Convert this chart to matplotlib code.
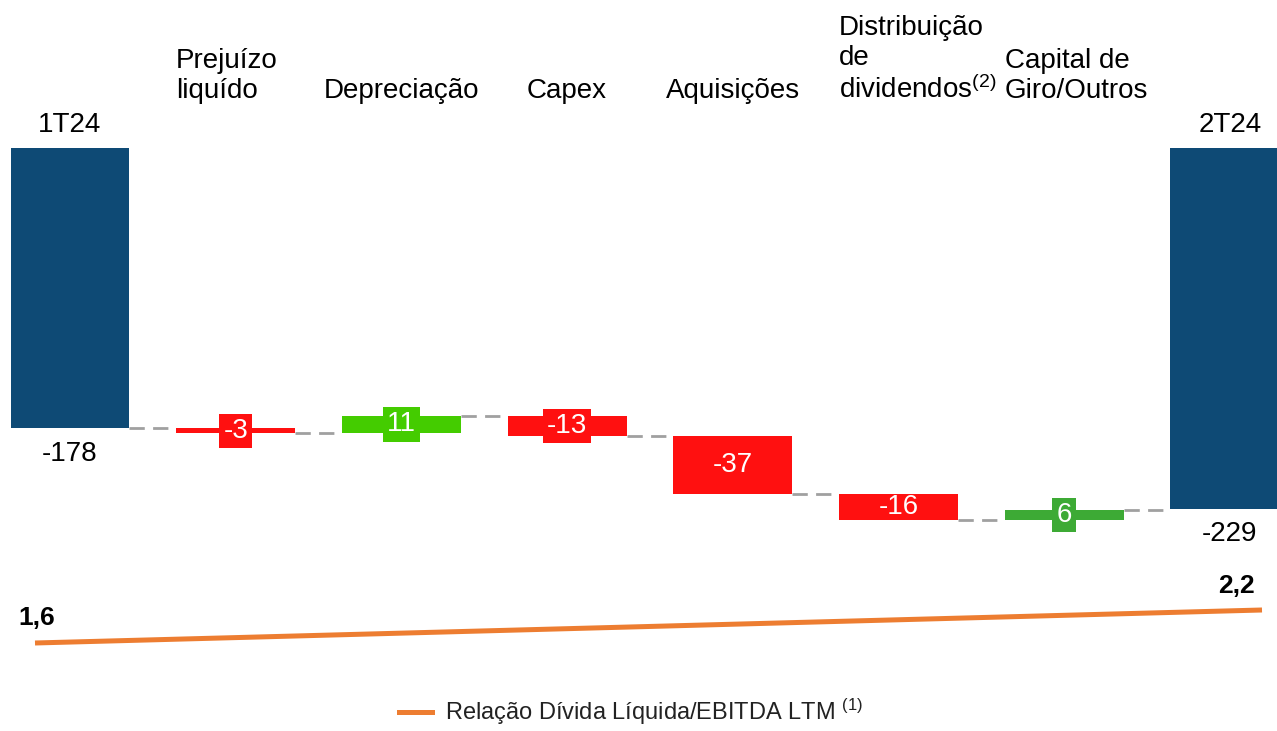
import numpy as np
import matplotlib
matplotlib.use('Agg')
import matplotlib.pyplot as plt
from matplotlib.lines import Line2D

plt.rcParams['font.family'] = ['Liberation Sans', 'DejaVu Sans']
plt.rcParams['mathtext.fontset'] = 'custom'
plt.rcParams['mathtext.rm'] = 'Liberation Sans'
plt.rcParams['mathtext.default'] = 'regular'

# waterfall data (R$ milhões)
start_label = '1T24'
start_value = -178
end_label = '2T24'
end_value = -229
step_labels = ['Prejuízo\nliquído', 'Depreciação', 'Capex', 'Aquisições',
               'Distribuição\nde\ndividendos$^{(2)}$', 'Capital de\nGiro/Outros']
step_values = [-3, 11, -13, -37, -16, 6]
step_colors = ['#FF1010', '#44CC00', '#FF1010', '#FF1010', '#FF1010', '#3DAA35']

# leverage line
ratio_periods = ['1T24', '2T24']
ratio_values = [1.6, 2.2]
ratio_label = 'Relação Dívida Líquida/EBITDA LTM $^{(1)}$'

NAVY = '#0E4A75'
ORANGE = '#ED7D31'
GRAY = '#A0A0A0'
BAR_W = 0.718


def fmt(v):
    return str(v)


fig = plt.figure(figsize=(12.77, 7.31), dpi=100)
ax = fig.add_axes([0, 0, 1, 1])
ax.set_xlim(-0.4225, 7.284)
ax.set_ylim(-370.2, 94.0)
ax.axis('off')

n = len(step_values)
xs = np.arange(n + 2)
cum = start_value + np.concatenate([[0], np.cumsum(step_values)])

# start / end bars
ax.bar([xs[0], xs[-1]], [start_value, end_value], width=BAR_W, color=NAVY, zorder=2)

# steps
ax.bar(xs[1:-1], step_values, bottom=cum[:-1], width=BAR_W, color=step_colors, zorder=2)

# connectors between bars
for i in range(n + 1):
    y = cum[i]
    ax.plot([xs[i] + BAR_W / 2, xs[i + 1] - BAR_W / 2], [y, y], color=GRAY,
            lw=2, linestyle=(0, (5.5, 3)), zorder=1)

# value labels inside steps (small steps get a box in the bar colour)
for i, v in enumerate(step_values):
    yc = cum[i] + v / 2
    bbox = None
    if abs(v) < 15:
        bbox = dict(boxstyle='square,pad=0.15', fc=step_colors[i], ec='none')
    ax.text(xs[i + 1], yc, fmt(v), ha='center', va='center', color='white',
            fontsize=20, bbox=bbox, zorder=3)

# category labels on top
label_y = (148 - 104) / 1.575
for i, lab in enumerate(step_labels):
    if '\n' in lab:
        ax.text(xs[i + 1] - BAR_W / 2, label_y, lab, ha='left', va='bottom',
                fontsize=20, color='black', linespacing=1.2)
    else:
        ax.text(xs[i + 1], label_y, lab, ha='center', va='bottom',
                fontsize=20, color='black')

# start/end labels
for x, lab, v in [(xs[0], start_label, start_value), (xs[-1], end_label, end_value)]:
    ax.annotate(lab, (x, 0), xytext=(0, 11.5), textcoords='offset points',
                ha='center', va='baseline', fontsize=20)
    ax.annotate(fmt(v), (x, v), xytext=(0, -9), textcoords='offset points',
                ha='center', va='top', fontsize=20)

# ratio line
ax2 = fig.add_axes([35 / 1277, 0, 1227 / 1277, 1])
ax2.set_xlim(0, len(ratio_values) - 1)
ax2.set_ylim(0, 13.29)
ax2.axis('off')
rx = np.arange(len(ratio_values))
ax2.plot(rx, ratio_values, color=ORANGE, lw=3.6, solid_capstyle='butt', clip_on=False)
ax2.annotate(f'{ratio_values[0]:.1f}'.replace('.', ','), (rx[0], ratio_values[0]),
             xytext=(1, 13), textcoords='offset points', ha='center', va='baseline',
             fontsize=19, fontweight='bold')
ax2.annotate(f'{ratio_values[-1]:.1f}'.replace('.', ','), (rx[-1], ratio_values[-1]),
             xytext=(-5, 12), textcoords='offset points', ha='right', va='baseline',
             fontsize=19, fontweight='bold')

handle = Line2D([], [], color=ORANGE, lw=3.6)
fig.legend([handle], [ratio_label], loc='center', bbox_to_anchor=(631 / 1277, 1 - 712 / 731),
           frameon=False, fontsize=17, handlelength=1.36, handletextpad=0.55,
           labelcolor='#222222')

fig.savefig('out.png', dpi=100)
